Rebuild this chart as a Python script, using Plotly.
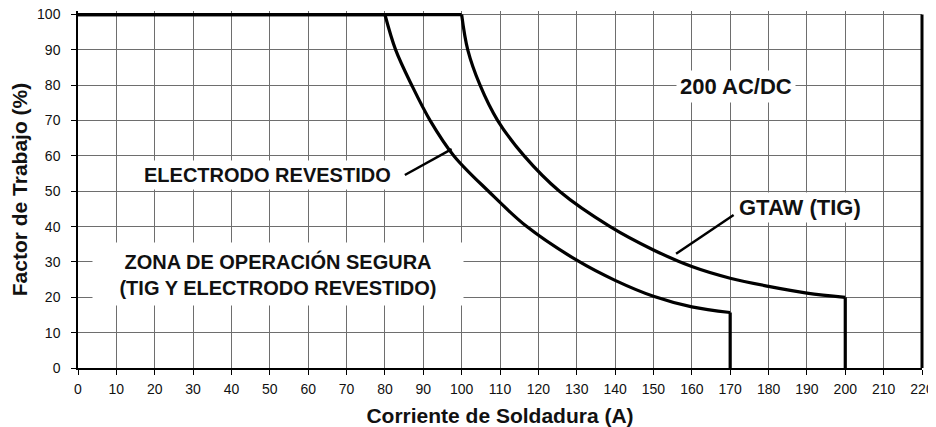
import plotly.graph_objects as go

# Corriente de soldadura (A) vs factor de trabajo (%)
electrodo_amps = [0, 80, 82.8, 87, 91.8, 98, 107, 117, 130, 140, 150, 160, 170, 170]
electrodo_duty = [100, 100, 90, 80, 70, 60, 50, 40, 30.5, 24.8, 20.3, 17.3, 15.7, 0]

gtaw_amps = [0, 100, 101.6, 104.8, 109.4, 116.3, 125.5, 138.7, 150, 160, 170, 180, 190, 200, 200]
gtaw_duty = [100, 100, 90, 80, 70, 60, 50, 40, 33.4, 28.7, 25.4, 23.1, 21.2, 20, 0]

x_ticks = list(range(0, 221, 10))
y_ticks = list(range(0, 101, 10))

FONT = "Liberation Sans, Arial, sans-serif"
line_style = dict(color="black", width=3.2)

fig = go.Figure()
for amps, duty in [(electrodo_amps, electrodo_duty), (gtaw_amps, gtaw_duty)]:
    # tramo plano, curva suave y caída vertical
    fig.add_trace(go.Scatter(x=amps[:2], y=duty[:2], mode="lines", line=line_style))
    fig.add_trace(go.Scatter(x=amps[1:-1], y=duty[1:-1], mode="lines",
                             line=dict(line_style, shape="spline", smoothing=1)))
    fig.add_trace(go.Scatter(x=amps[-2:], y=duty[-2:], mode="lines", line=line_style))

label_font = dict(family=FONT, size=20, color="#111")
big_font = dict(family=FONT, size=22, color="#111")
fig.add_annotation(x=49.4, y=54.6, text="<b>ELECTRODO REVESTIDO</b>", showarrow=False,
                   font=label_font, bgcolor="white", borderpad=3)
fig.add_annotation(x=171.5, y=79.7, text="<b>200 AC/DC</b>", showarrow=False,
                   font=big_font, bgcolor="white", borderpad=3)
fig.add_annotation(x=188.3, y=45.3, text="<b>GTAW (TIG)</b>", showarrow=False,
                   font=big_font, bgcolor="white", borderpad=2)
fig.add_annotation(x=52.1, y=26.5,
                   text="<b>ZONA DE OPERACIÓN SEGURA<br>(TIG Y ELECTRODO REVESTIDO)</b>",
                   showarrow=False, font=label_font, bgcolor="white",
                   width=366, height=58, borderpad=2, align="center")

# líneas guía de las etiquetas
fig.add_shape(type="line", x0=85.2, y0=54.6, x1=97.4, y1=61.9, line=dict(color="black", width=2.5))
fig.add_shape(type="line", x0=155.9, y0=32.3, x1=170.9, y1=43.3, line=dict(color="black", width=2.5))
# borde derecho
fig.add_shape(type="line", xref="paper", x0=1, x1=1, yref="y", y0=0, y1=100,
              line=dict(color="black", width=3))

axis_common = dict(
    showgrid=True, gridcolor="#6e6e6e", gridwidth=1,
    showline=True, linecolor="black", linewidth=1.5,
    ticks="outside", ticklen=5, tickcolor="black", tickwidth=1,
    tickfont=dict(family=FONT, size=14, color="#111"),
    zeroline=False, automargin=False, ticklabeloverflow="allow",
)
fig.update_xaxes(axis_common, range=[0, 220], tickvals=x_ticks, ticklabelstandoff=2,
                 title=dict(text="<b>Corriente de Soldadura (A)</b>", standoff=13,
                            font=dict(family=FONT, size=21, color="#111")))
fig.update_yaxes(axis_common, range=[0, 101], tickvals=y_ticks, ticklabelstandoff=8,
                 title=dict(text="<b>Factor de Trabajo (%)</b>", standoff=9,
                            font=dict(family=FONT, size=21, color="#111")))

# la página deja 8 px de margen en el body: el tamaño lo compensa
fig.update_layout(
    width=928, height=419,
    showlegend=False,
    plot_bgcolor="white", paper_bgcolor="white",
    margin=dict(l=70, r=14, t=3, b=59),
)
fig.write_html("out.html")
